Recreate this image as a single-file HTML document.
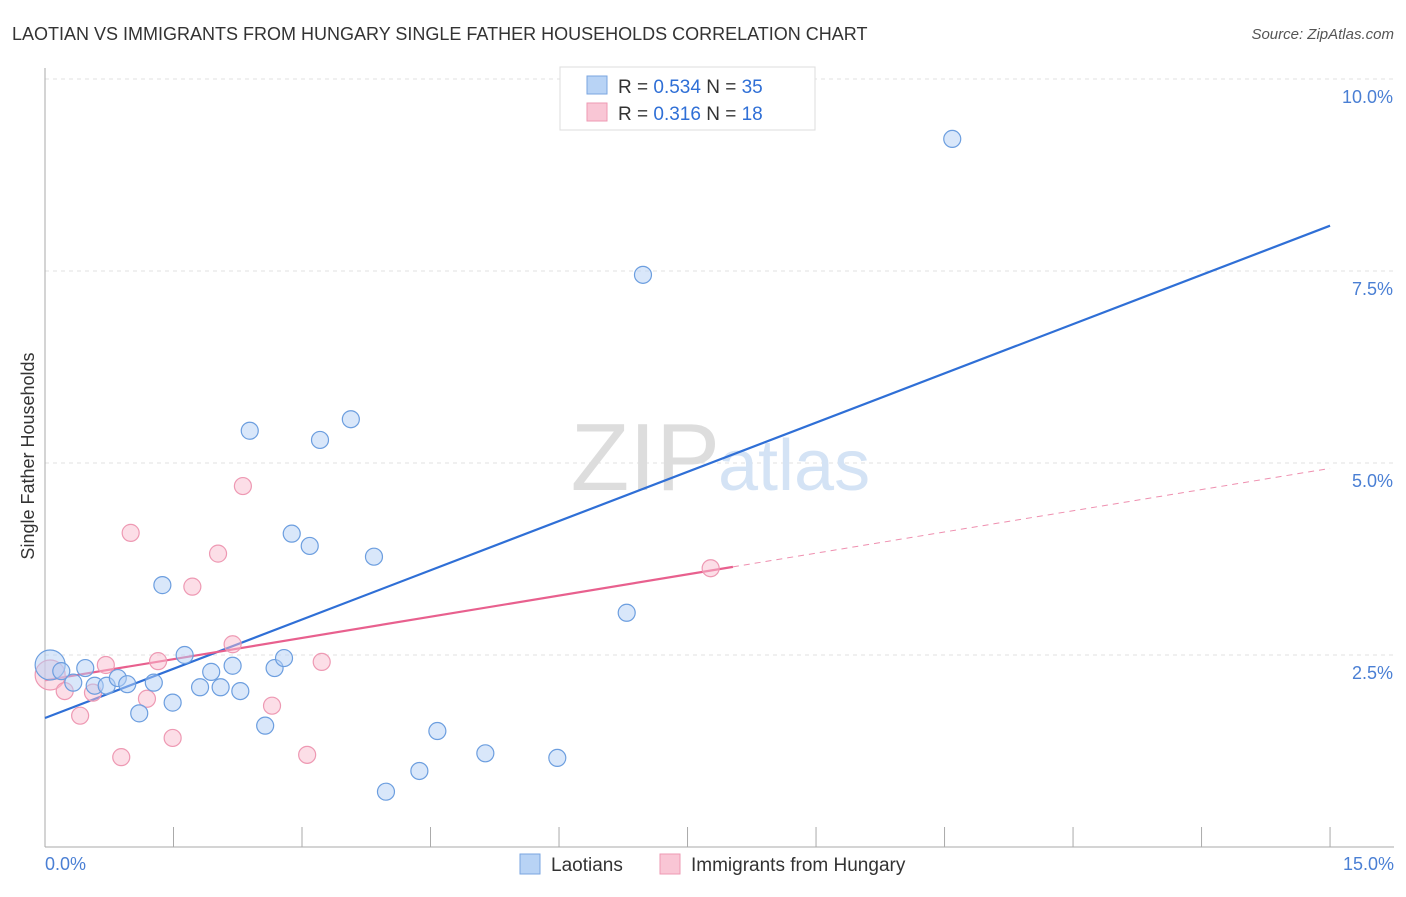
<!DOCTYPE html>
<html><head><meta charset="utf-8"><style>
body{margin:0;background:#fff;font-family:"Liberation Sans",sans-serif;}
svg text{font-family:"Liberation Sans",sans-serif;}
</style></head><body>
<svg width="1406" height="892" id="chart">
<text x="12" y="40" font-size="18" fill="#333">LAOTIAN VS IMMIGRANTS FROM HUNGARY SINGLE FATHER HOUSEHOLDS CORRELATION CHART</text>
<text x="1394" y="39" font-size="15" fill="#555" font-style="italic" text-anchor="end">Source: ZipAtlas.com</text>
<g id="grid"></g>
<text x="720" y="490" font-size="96" fill="#ddd" text-anchor="end" font-family="Liberation Serif">ZIP</text>
<text x="718" y="490" font-size="72" fill="#d4e3f5">atlas</text>
<line x1="45" y1="68" x2="45" y2="847" stroke="#aaa"/>
<line x1="45" y1="847" x2="1394" y2="847" stroke="#aaa"/>
<text x="34" y="456" font-size="18" fill="#333" text-anchor="middle" transform="rotate(-90 34 456)">Single Father Households</text>
<text x="45" y="870" font-size="18" fill="#4a7fd4">0.0%</text>
<text x="1394" y="870" font-size="18" fill="#4a7fd4" text-anchor="end">15.0%</text>
<g id="lines"></g>
<g id="pts"></g>
<g>
<rect x="560" y="67" width="255" height="63" fill="#fff" stroke="#ddd"/>
<rect x="587" y="76" width="20" height="18" fill="#b8d3f5" stroke="#7aa6e0"/>
<rect x="587" y="103" width="20" height="18" fill="#f9c6d5" stroke="#ee99b3"/>
<text x="618" y="93" font-size="19" fill="#333">R = <tspan fill="#2f6fd6">0.534</tspan>   N = <tspan fill="#2f6fd6">35</tspan></text>
<text x="618" y="120" font-size="19" fill="#333">R =  <tspan fill="#2f6fd6">0.316</tspan>   N =  <tspan fill="#2f6fd6">18</tspan></text>
</g>
<g>
<rect x="520" y="854" width="20" height="20" fill="#b8d3f5" stroke="#7aa6e0"/>
<text x="551" y="871" font-size="19" fill="#333">Laotians</text>
<rect x="660" y="854" width="20" height="20" fill="#f9c6d5" stroke="#ee99b3"/>
<text x="691" y="871" font-size="19" fill="#333">Immigrants from Hungary</text>
</g>
</svg>
<script>
const yTicks=[2.5,5.0,7.5,10.0];
const xTickVals=[0,1.5,3,4.5,6,7.5,9,10.5,12,13.5,15];
const blueX=[0.06,0.19,0.33,0.47,0.58,0.72,0.85,0.96,1.10,1.27,1.37,1.49,1.63,1.81,1.94,2.05,2.19,2.28,2.39,2.57,2.68,2.79,2.88,3.09,3.21,3.57,3.84,3.98,4.37,4.58,5.14,5.98,6.79,6.98,10.59];
const blueY=[2.37,2.29,2.14,2.33,2.10,2.10,2.20,2.12,1.74,2.14,3.41,1.88,2.50,2.08,2.28,2.08,2.36,2.03,5.42,1.58,2.33,2.46,4.08,3.92,5.30,5.57,3.78,0.72,0.99,1.51,1.22,1.16,3.05,7.45,9.22];
const pinkX=[0.06,0.23,0.41,0.56,0.71,0.89,1.00,1.19,1.32,1.49,1.72,2.02,2.19,2.31,2.65,3.06,3.23,7.77];
const pinkY=[2.24,2.03,1.71,2.01,2.37,1.17,4.09,1.93,2.42,1.42,3.39,3.82,2.64,4.70,1.84,1.20,2.41,3.63];
const blueTrend=[1.68,8.09];
const pinkTrend=[2.17,4.93];
const pinkSolidEnd=8.03;
const X=v=>45+v*85.67, Y=v=>847-v*76.8;
const NS='http://www.w3.org/2000/svg';
function mk(t,a,p){const e=document.createElementNS(NS,t);for(const k in a)e.setAttribute(k,a[k]);p.appendChild(e);return e;}
const grid=document.getElementById('grid');
yTicks.forEach(t=>{
 const l=mk('line',{x1:45,x2:1394,y1:Y(t),y2:Y(t),stroke:'#e2e2e2','stroke-dasharray':'4,4'},grid);
 
 
 const tx=mk('text',{x:1393,y:Y(t)+24,'font-size':18,fill:'#4a7fd4','text-anchor':'end'},grid);
 tx.textContent=t.toFixed(1)+'%';
 
 
});
xTickVals.forEach(t=>{
 const l=mk('line',{x1:X(t),x2:X(t),y1:827,y2:847,stroke:'#aaa'},grid);
 
 
});
const lines=document.getElementById('lines');
let l=mk('line',{x1:X(0),y1:Y(blueTrend[0]),x2:X(15),y2:Y(blueTrend[1]),stroke:'#2f6fd6','stroke-width':2.2},lines);


const pm=pinkTrend[0]+(pinkTrend[1]-pinkTrend[0])*pinkSolidEnd/15;
l=mk('line',{x1:X(0),y1:Y(pinkTrend[0]),x2:X(pinkSolidEnd),y2:Y(pm),stroke:'#e8608e','stroke-width':2.2},lines);


l=mk('line',{x1:X(pinkSolidEnd),y1:Y(pm),x2:X(15),y2:Y(pinkTrend[1]),stroke:'#e8608e','stroke-width':1,'stroke-dasharray':'6,5','opacity':0.7},lines);


const pts=document.getElementById('pts');
pinkX.forEach((x,i)=>{
 const c=mk('circle',{cx:X(x),cy:Y(pinkY[i]),r:i==0?15:8.5,fill:'rgba(249,190,208,0.5)',stroke:'#ee99b3','stroke-width':1.2},pts);
 
 
});
blueX.forEach((x,i)=>{
 const c=mk('circle',{cx:X(x),cy:Y(blueY[i]),r:i==0?15:8.5,fill:'rgba(180,208,245,0.5)',stroke:'#6c9edf','stroke-width':1.2},pts);
 
 
});
</script>
</body></html>
